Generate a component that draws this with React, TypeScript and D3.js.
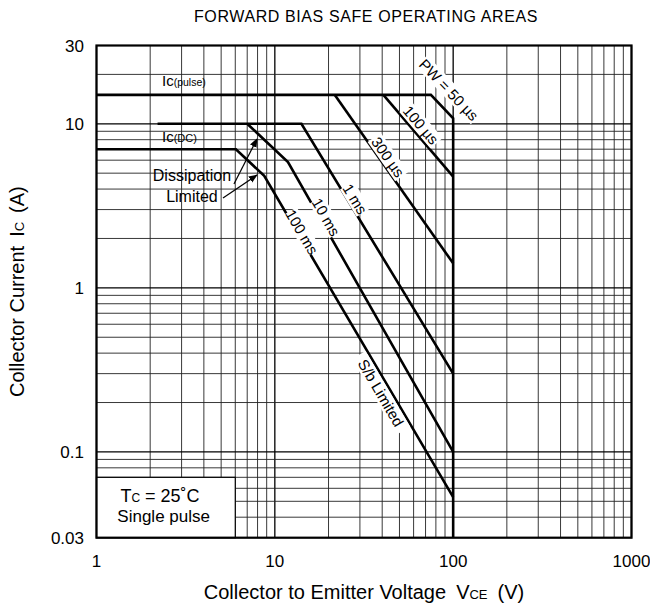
import React from "react";
import * as d3 from "d3";

// ---- data ----
const xDomain = [1, 1000];
const yDomain = [0.03, 30];
const xTicks = [1, 10, 100, 1000];
const xTickLabels = ["1", "10", "100", "1000"];
const yTicks = [30, 10, 1, 0.1, 0.03];
const yTickLabels = ["30", "10", "1", "0.1", "0.03"];

// curves: [V, A]
const pulseLimit: [number, number][] = [[1, 15], [75, 15], [100, 10.8], [100, 0.03]];
const line100us: [number, number][] = [[40.6, 15], [100, 4.76]];
const line300us: [number, number][] = [[21.7, 15], [100, 1.41]];
const line1ms: [number, number][] = [[2.2, 10], [14.1, 10], [100, 0.3]];
const line10ms: [number, number][] = [[7, 10], [11.85, 5.85], [100, 0.1]];
const line100ms: [number, number][] = [[1, 7], [6.05, 7], [8.72, 4.81], [100, 0.053]];
const curves = [pulseLimit, line100us, line300us, line1ms, line10ms, line100ms];

const curveLabels = [
  { text: "PW = 50 µs", v: 94.8, i: 16.1, curve: pulseLimit, seg: 1 },
  { text: "100 µs", v: 66, i: 9.83, curve: line100us, seg: 0 },
  { text: "300 µs", v: 43.1, i: 6.27, curve: line300us, seg: 0 },
  { text: "1 ms", v: 28.2, i: 3.48, curve: line1ms, seg: 1 },
  { text: "10 ms", v: 19.4, i: 2.7, curve: line10ms, seg: 1 },
  { text: "100 ms", v: 14.2, i: 2.19, curve: line100ms, seg: 2 },
  { text: "S/b Limited", v: 39.4, i: 0.229, curve: line100ms, seg: 2 },
];

// annotation arrows [from, to] in data units
const arrows: [number, number][][] = [
  [[5.9, 4.29], [7.94, 8.08]],
  [[5.12, 3.53], [7.94, 4.87]],
];
const conditionBox = { v0: 1, v1: 6, i0: 0.03, i1: 0.07 };

const W = 650, H = 606;
const FONT = "'Liberation Sans', Arial, Helvetica, sans-serif";

export default function App() {
  const x = d3.scaleLog().domain(xDomain).range([96.5, 631.5]);
  const y = d3.scaleLog().domain(yDomain).range([537.7, 45.5]);
  const line = d3.line<[number, number]>().x((d) => x(d[0])).y((d) => y(d[1]));

  const xGrid = x.ticks();
  const yGrid = y.ticks();
  const isDecade = (v: number) => Math.abs(Math.log10(v) - Math.round(Math.log10(v))) < 1e-6;

  const [x0, x1] = x.range();
  const [yb, yt] = y.range();
  const cx = (x0 + x1) / 2;
  const cy = (yb + yt) / 2;

  return (
    <svg width={W} height={H} style={{ position: "absolute", left: 0, top: 0, background: "#fff" }} fontFamily={FONT}>
      <defs>
        <marker id="ah" viewBox="0 0 10 10" refX="9" refY="5" markerWidth="9" markerHeight="9" orient="auto" markerUnits="userSpaceOnUse">
          <path d="M0,1 L10,5 L0,9 Z" fill="#000" />
        </marker>
      </defs>
      <rect x={0} y={0} width={W} height={H} fill="#fff" />
      <text x={366} y={22} textAnchor="middle" fontSize={16} letterSpacing={0.6}>FORWARD BIAS SAFE OPERATING AREAS</text>

      {/* grid */}
      {xGrid.map((v) => (
        <line key={"gx" + v} x1={x(v)} x2={x(v)} y1={yt} y2={yb} stroke={isDecade(v) ? "#000" : "#222"} strokeWidth={isDecade(v) ? 1.3 : 0.9} />
      ))}
      {yGrid.map((v) => (
        <line key={"gy" + v} x1={x0} x2={x1} y1={y(v)} y2={y(v)} stroke={isDecade(v) ? "#000" : "#222"} strokeWidth={isDecade(v) ? 1.3 : 0.9} />
      ))}

      {/* condition box */}
      <rect x={x(conditionBox.v0)} y={y(conditionBox.i1)} width={x(conditionBox.v1) - x(conditionBox.v0)} height={y(conditionBox.i0) - y(conditionBox.i1)} fill="#fff" stroke="#000" strokeWidth={1.2} />
      <text x={x(2.27)} y={y(0.0496)} textAnchor="middle" fontSize={18}>
        T<tspan fontSize={12}>C</tspan> = 25˚C
      </text>
      <text x={x(2.38)} y={y(0.0374)} textAnchor="middle" fontSize={17}>Single pulse</text>

      {/* curves */}
      {curves.map((c, k) => (
        <path key={"c" + k} d={line(c) || ""} fill="none" stroke="#000" strokeWidth={2.6} strokeLinejoin="miter" />
      ))}

      {/* curve labels */}
      {curveLabels.map((l) => {
        const a = l.curve[l.seg], b = l.curve[l.seg + 1];
        const ang = (Math.atan2(y(b[1]) - y(a[1]), x(b[0]) - x(a[0])) * 180) / Math.PI;
        const px = x(l.v), py = y(l.i);
        return (
          <g key={l.text} transform={`translate(${px},${py}) rotate(${ang})`}>
            <rect x={-l.text.length * 4} y={-8} width={l.text.length * 8} height={16} fill="#fff" />
            <text textAnchor="middle" dominantBaseline="central" fontSize={15}>{l.text}</text>
          </g>
        );
      })}

      {/* Ic labels */}
      <text x={x(2.33)} y={y(17)} fontSize={15}>
        Ic<tspan fontSize={10.5}>(pulse)</tspan>
      </text>
      <text x={x(2.33)} y={y(7.75)} fontSize={15}>
        Ic<tspan fontSize={11}>(DC)</tspan>
      </text>
      <text x={x(3.43)} y={y(4.48)} textAnchor="middle" fontSize={16}>Dissipation</text>
      <text x={x(3.43)} y={y(3.34)} textAnchor="middle" fontSize={16}>Limited</text>
      {arrows.map((a, k) => (
        <line key={"a" + k} x1={x(a[0][0])} y1={y(a[0][1])} x2={x(a[1][0])} y2={y(a[1][1])} stroke="#000" strokeWidth={1.2} markerEnd="url(#ah)" />
      ))}

      {/* frame */}
      <rect x={x0} y={yt} width={x1 - x0} height={yb - yt} fill="none" stroke="#000" strokeWidth={2.2} />

      {/* tick labels */}
      {xTicks.map((v, k) => (
        <text key={"xt" + v} x={x(v)} y={567} textAnchor="middle" fontSize={17}>{xTickLabels[k]}</text>
      ))}
      {yTicks.map((v, k) => (
        <text key={"yt" + v} x={84} y={y(v) + 6} textAnchor="end" fontSize={17}>{yTickLabels[k]}</text>
      ))}

      {/* axis titles */}
      <text x={cx} y={599} textAnchor="middle" fontSize={20}>
        Collector to Emitter Voltage<tspan dx={10}>V</tspan><tspan fontSize={13}>CE</tspan><tspan dx={10}>(V)</tspan>
      </text>
      <text transform={`translate(24,${cy}) rotate(-90)`} textAnchor="middle" fontSize={20}>
        Collector Current<tspan dx={9}>I</tspan><tspan fontSize={13}>C</tspan><tspan dx={9}>(A)</tspan>
      </text>
    </svg>
  );
}
